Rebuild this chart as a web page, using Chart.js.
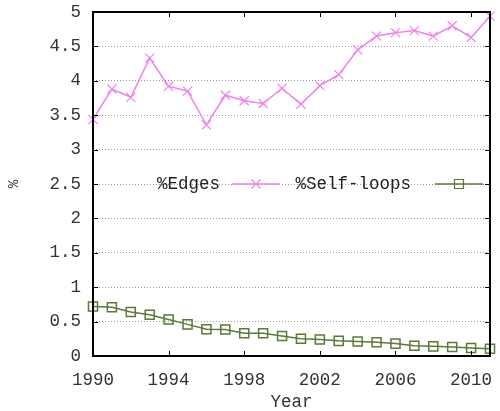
<!DOCTYPE html>
<html>
<head>
<meta charset="utf-8">
<script src="https://cdn.jsdelivr.net/npm/chart.js@4/dist/chart.umd.min.js"></script>
<style>
    html, body { margin: 0; padding: 0; background: #fff; }
    #c { display: block; }
</style>
</head>
<body>
<canvas id="c" width="500" height="411"></canvas>
<script>
const years = [1990, 1991, 1992, 1993, 1994, 1995, 1996, 1997, 1998, 1999, 2000,
               2001, 2002, 2003, 2004, 2005, 2006, 2007, 2008, 2009, 2010, 2011];

const edgesPct = [3.44, 3.88, 3.76, 4.33, 3.92, 3.85, 3.36, 3.79, 3.71, 3.67, 3.89,
                  3.66, 3.93, 4.09, 4.45, 4.65, 4.70, 4.73, 4.65, 4.80, 4.63, 4.94];

const selfLoopsPct = [0.72, 0.71, 0.64, 0.60, 0.53, 0.46, 0.39, 0.385, 0.33, 0.33, 0.29,
                      0.25, 0.24, 0.22, 0.21, 0.20, 0.18, 0.15, 0.14, 0.13, 0.115, 0.105];

const xTicks = [1990, 1994, 1998, 2002, 2006, 2010];
const yTicks = [0, 0.5, 1, 1.5, 2, 2.5, 3, 3.5, 4, 4.5, 5];

const seriesNames = ['%Edges', '%Self-loops'];

const EDGE_COLOR = '#ee82ee';
const LOOP_COLOR = '#5a7a38';
const FONT = "'Liberation Mono', 'DejaVu Sans Mono', monospace";
const FONT_SIZE = 17.5;
const textColor = '#333';

/* ── frame, inward ticks, gnuplot-style legend ── */
const gnuFrame = {
    id: 'gnuFrame',
    afterDatasetsDraw(chart) {
        const { ctx, chartArea: a, scales } = chart;
        ctx.save();
        ctx.strokeStyle = '#000';
        ctx.lineWidth = 1;
        xTicks.forEach(v => {
            const x = Math.round(scales.x.getPixelForValue(v)) + 0.5;
            ctx.beginPath();
            ctx.moveTo(x, a.bottom); ctx.lineTo(x, a.bottom - 5);
            ctx.moveTo(x, a.top);    ctx.lineTo(x, a.top + 5);
            ctx.stroke();
        });
        yTicks.forEach(v => {
            const y = Math.round(scales.y.getPixelForValue(v)) + 0.5;
            ctx.beginPath();
            ctx.moveTo(a.left, y);  ctx.lineTo(a.left + 5, y);
            ctx.moveTo(a.right, y); ctx.lineTo(a.right - 5, y);
            ctx.stroke();
        });
        ctx.lineWidth = 2;
        ctx.strokeRect(Math.round(a.left), Math.round(a.top), Math.round(a.right - a.left), Math.round(a.bottom - a.top));
        ctx.restore();
    },
    afterDraw(chart) {
        const { ctx } = chart;
        const ly = 184;
        const items = [
            { name: seriesNames[0], textRight: 220, x0: 232, x1: 280, color: EDGE_COLOR, mark: 'cross' },
            { name: seriesNames[1], textRight: 411, x0: 435, x1: 483, color: LOOP_COLOR, mark: 'square' }
        ];
        ctx.save();
        ctx.font = FONT_SIZE + 'px ' + FONT;
        ctx.textAlign = 'right';
        ctx.textBaseline = 'middle';
        items.forEach(it => {
            ctx.fillStyle = '#222';
            ctx.fillText(it.name, it.textRight, ly);
            ctx.strokeStyle = it.color;
            ctx.lineWidth = 1.5;
            ctx.beginPath();
            ctx.moveTo(it.x0, ly); ctx.lineTo(it.x1, ly);
            ctx.stroke();
            const cx = (it.x0 + it.x1) / 2;
            ctx.lineWidth = 1.2;
            ctx.beginPath();
            if (it.mark === 'cross') {
                ctx.moveTo(cx - 4.5, ly - 4.5); ctx.lineTo(cx + 4.5, ly + 4.5);
                ctx.moveTo(cx - 4.5, ly + 4.5); ctx.lineTo(cx + 4.5, ly - 4.5);
            } else {
                ctx.rect(cx - 4.5, ly - 4.5, 9, 9);
            }
            ctx.stroke();
        });
        ctx.restore();
    }
};

new Chart(document.getElementById('c'), {
    type: 'line',
    data: {
        datasets: [{
            label: seriesNames[0],
            data: years.map((y, i) => ({ x: y, y: edgesPct[i] })),
            borderColor: EDGE_COLOR,
            borderWidth: 1.5,
            pointStyle: 'crossRot',
            pointRadius: 6.4,
            pointBorderColor: EDGE_COLOR,
            pointBorderWidth: 1.2,
            tension: 0
        }, {
            label: seriesNames[1],
            data: years.map((y, i) => ({ x: y, y: selfLoopsPct[i] })),
            borderColor: LOOP_COLOR,
            borderWidth: 1.5,
            pointStyle: 'rect',
            pointRadius: 6.4,
            pointBorderColor: LOOP_COLOR,
            pointBackgroundColor: 'rgba(0,0,0,0)',
            pointBorderWidth: 1.5,
            tension: 0
        }]
    },
    options: {
        responsive: false,
        animation: false,
        events: [],
        clip: false,
        layout: { padding: { top: 12, right: 10, bottom: 0, left: 0 } },
        plugins: { legend: { display: false }, tooltip: { enabled: false } },
        scales: {
            x: {
                type: 'linear',
                min: 1990,
                max: 2011,
                afterBuildTicks: s => { s.ticks = xTicks.map(v => ({ value: v })); },
                afterFit: s => { s.height = 55; s.paddingLeft = 0; s.paddingRight = 0; },
                ticks: { color: textColor, font: { family: FONT, size: FONT_SIZE }, padding: 14, maxRotation: 0, callback: v => String(v) },
                grid: { display: false, drawTicks: false },
                border: { display: false },
                title: { display: true, text: 'Year', color: textColor, font: { family: FONT, size: FONT_SIZE, lineHeight: 1 }, padding: { top: 0, bottom: 0 } }
            },
            y: {
                min: 0,
                max: 5,
                afterBuildTicks: s => { s.ticks = yTicks.map(v => ({ value: v })); },
                afterFit: s => { s.width = 93; s.paddingTop = 0; s.paddingBottom = 0; },
                ticks: { color: textColor, font: { family: FONT, size: FONT_SIZE }, padding: 12, callback: v => String(v) },
                grid: { color: '#999', lineWidth: 1, drawTicks: false },
                border: { display: false, dash: [1, 2] },
                title: { display: true, text: '%', color: textColor, font: { family: FONT, size: 14 }, padding: { top: 6, bottom: 0 } }
            }
        }
    },
    plugins: [gnuFrame]
});
</script>
</body>
</html>
